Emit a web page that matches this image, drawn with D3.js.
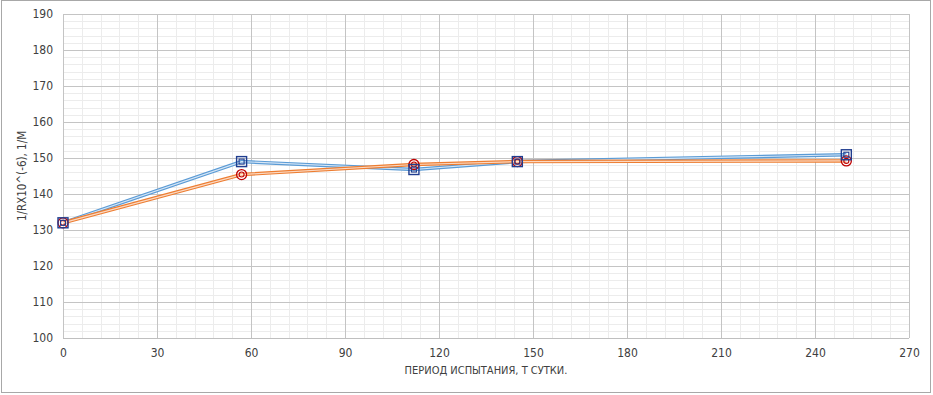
<!DOCTYPE html>
<html><head><meta charset="utf-8">
<script src="https://cdn.jsdelivr.net/npm/d3@7/dist/d3.min.js"></script>
<style>body{margin:0;background:#fff}svg{display:block}text{font-family:"DejaVu Sans Condensed","Liberation Sans",sans-serif;fill:#404040}</style>
</head><body><svg id="c" width="933" height="395"></svg>
<script>
const days = [0, 57, 112, 145, 250];
const seriesBlue = [132, 149, 146.8, 149, 150.9];
const seriesOrange = [132, 145.4, 148.2, 149, 149.2];
const xTicks = [0, 30, 60, 90, 120, 150, 180, 210, 240, 270];
const yTicks = [100, 110, 120, 130, 140, 150, 160, 170, 180, 190];
const xTitle = "ПЕРИОД ИСПЫТАНИЯ,  Т СУТКИ.";
const yTitle = "1/RX10^(-6), 1/M";

const svg = d3.select("#c");
svg.append("rect").attr("x",1.5).attr("y",0.5).attr("width",929).attr("height",392)
  .attr("fill","#fff").attr("stroke","#a8a8a8");
const L=63,R=909,T=14,B=338;
const x=d3.scaleLinear().domain([0,270]).range([L,R]);
const y=d3.scaleLinear().domain([100,190]).range([B,T]);
const g=svg.append("g");
g.selectAll(".mx").data(d3.range(0,271,6)).join("line")
  .attr("x1",d=>Math.round(x(d))+0.5).attr("x2",d=>Math.round(x(d))+0.5).attr("y1",T).attr("y2",B)
  .attr("stroke","#ececec");
g.selectAll(".my").data(d3.range(100,191,2)).join("line")
  .attr("y1",d=>Math.round(y(d))+0.5).attr("y2",d=>Math.round(y(d))+0.5).attr("x1",L).attr("x2",R)
  .attr("stroke","#ececec");
g.selectAll(".Mx").data(xTicks).join("line")
  .attr("x1",d=>Math.round(x(d))+0.5).attr("x2",d=>Math.round(x(d))+0.5).attr("y1",T).attr("y2",B)
  .attr("stroke","#c4c4c4");
g.selectAll(".My").data(yTicks).join("line")
  .attr("y1",d=>Math.round(y(d))+0.5).attr("y2",d=>Math.round(y(d))+0.5).attr("x1",L).attr("x2",R)
  .attr("stroke","#c4c4c4");
const xa=d3.axisBottom(x).tickValues(xTicks).tickSize(0).tickPadding(10);
const ya=d3.axisLeft(y).tickValues(yTicks).tickSize(0).tickPadding(10);
const gx=svg.append("g").attr("transform",`translate(0,${B})`).call(xa);
const gy=svg.append("g").attr("transform",`translate(${L},0)`).call(ya);
[gx,gy].forEach(a=>{a.select(".domain").remove();a.selectAll("text").attr("font-size",12).style("font-family",'"DejaVu Sans Condensed",sans-serif').attr("fill","#404040");});
svg.append("line").attr("x1",L).attr("x2",R).attr("y1",B+0.5).attr("y2",B+0.5).attr("stroke","#bfbfbf");
svg.append("text").attr("x",486).attr("y",374).attr("text-anchor","middle").attr("font-size",11).text(xTitle);
svg.append("text").attr("transform","translate(26,176) rotate(-90)").attr("text-anchor","middle").attr("font-size",11.5).text(yTitle);

const line=d3.line().x((d,i)=>x(days[i])).y(d=>y(d));
function drawSeries(vals,col,light){
  svg.append("path").datum(vals).attr("d",line).attr("fill","none").attr("stroke",col).attr("stroke-width",3.5);
  svg.append("path").datum(vals).attr("d",line).attr("fill","none").attr("stroke",light).attr("stroke-width",1.2);
}
drawSeries(seriesBlue,"#5b9bd5","#d6e6f6");
drawSeries(seriesOrange,"#ed7d31","#fbd9c3");
const mk=svg.append("g");
seriesOrange.forEach((v,i)=>{
  mk.append("circle").attr("cx",x(days[i])).attr("cy",y(v)).attr("r",5).attr("fill","#fff").attr("fill-opacity",0.4).attr("stroke","#c00000").attr("stroke-width",1.3);
  mk.append("circle").attr("cx",x(days[i])).attr("cy",y(v)).attr("r",2.5).attr("fill","none").attr("stroke","#c00000").attr("stroke-width",1.1);
});
seriesBlue.forEach((v,i)=>{
  mk.append("rect").attr("x",x(days[i])-5).attr("y",y(v)-5).attr("width",10).attr("height",10).attr("fill","none").attr("stroke","#1f3d8f").attr("stroke-width",1.4);
  mk.append("rect").attr("x",x(days[i])-2.5).attr("y",y(v)-2.5).attr("width",5).attr("height",5).attr("fill","none").attr("stroke","#1f3d8f").attr("stroke-width",1.1);
});
</script></body></html>
